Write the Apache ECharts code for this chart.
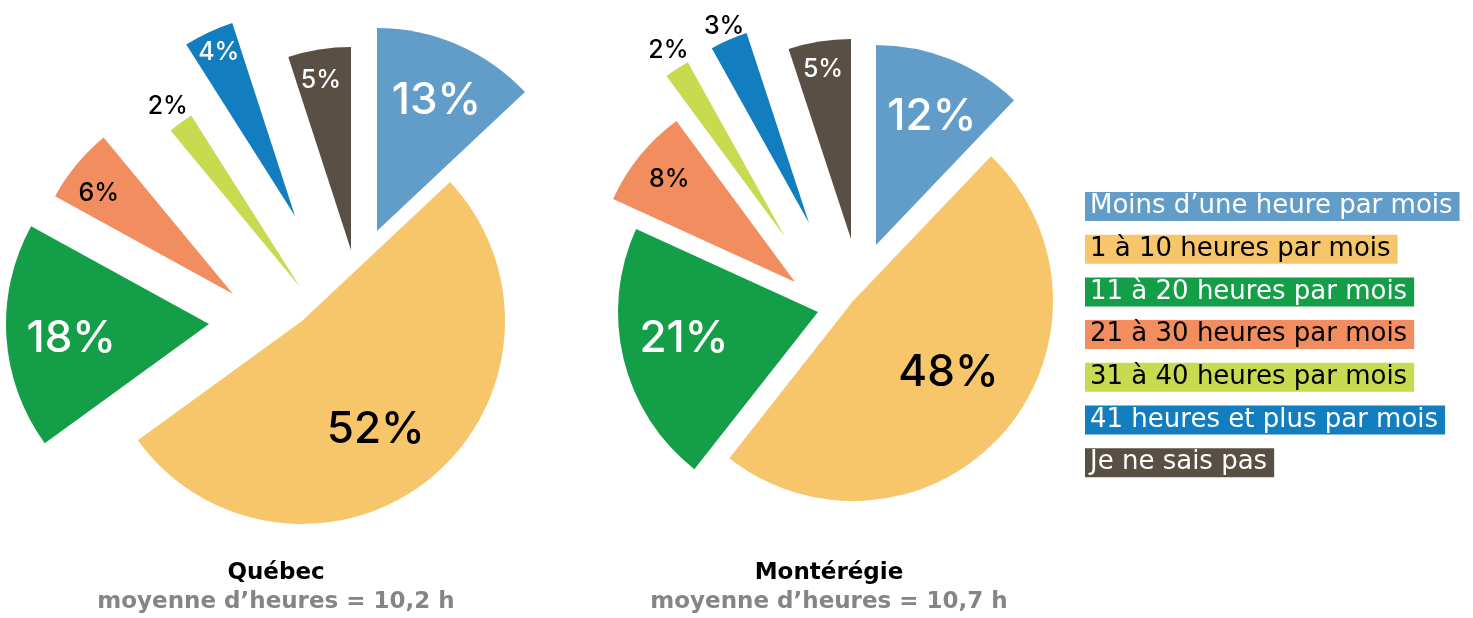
<!DOCTYPE html>
<html><head><meta charset="utf-8">
<script src="https://cdn.jsdelivr.net/npm/echarts@6/dist/echarts.min.js"></script>
<style>html,body{margin:0;padding:0;background:#fff}#c{width:1473px;height:618px}</style>
</head><body><div id="c"></div>
<script>
// ---- DATA ----
const categories = ['Moins d’une heure par mois', '1 à 10 heures par mois', '11 à 20 heures par mois', '21 à 30 heures par mois', '31 à 40 heures par mois', '41 heures et plus par mois', 'Je ne sais pas'];
const quebecValues = [13, 52, 18, 6, 2, 4, 5];
const monteregieValues = [12, 48, 21, 8, 2, 3, 5];
const regionNames = ['Québec', 'Montérégie'];
const regionSubtitles = ['moyenne d’heures = 10,2 h', 'moyenne d’heures = 10,7 h'];

// ---- STYLE ----
const LABEL_FONT = 'Inter, "Noto Sans", sans-serif';
const TEXT_FONT = '"DejaVu Sans", "Noto Sans", sans-serif';
const colors = ['#629DC9', '#F7C66B', '#149E48', '#F18D5E', '#C8DA50', '#127EC0', '#594F45'];
const legendTextColors = ['#fff', '#000', '#fff', '#000', '#000', '#fff', '#fff'];

// ---- LAYOUT (explosion apex of each slice, label radial fraction + nudge) ----
const layouts = [
  { R: 203, titleX: 276,
    apex: [[377, 231], [302, 321], [209, 324], [233, 294], [300, 287], [295, 216], [351, 250]],
    labelK: [0.71, 0.64, 0.68, 0.83, 1.11, 0.89, 0.87],
    labelOffset: [[1, 5], [-11, 6], [3, 6], [-2, 9], [2, 4], [2, 3], [-2, 8]],
    labelSize: [44, 44, 44, 25, 25, 25, 25],
    labelColor: ['#fff', '#000', '#fff', '#000', '#000', '#fff', '#fff'] },
  { R: 200, titleX: 829,
    apex: [[876, 245], [853, 301], [818, 312], [795, 282], [785, 237], [809, 223], [851, 239]],
    labelK: [0.71, 0.59, 0.69, 0.82, 1.11, 1.08, 0.87],
    labelOffset: [[2, 6], [4, -7], [3, -6], [4, 3], [5, 3], [3, 4], [0, 5]],
    labelSize: [44, 44, 44, 25, 25, 25, 25],
    labelColor: ['#fff', '#000', '#fff', '#000', '#000', '#000', '#fff'] }
];
const regionValues = [quebecValues, monteregieValues];

const TRANSPARENT = 'rgba(0,0,0,0)';
const series = [];
regionValues.forEach((values, r) => {
  const L = layouts[r];
  values.forEach((_, i) => {
    // slice i drawn by its own pie (all values, only slice i coloured)
    series.push({
      type: 'pie', center: L.apex[i], radius: [0, L.R], startAngle: 90, clockwise: true,
      silent: true, animation: false, avoidLabelOverlap: false, z: 2,
      label: { show: false }, labelLine: { show: false }, emphasis: { disabled: true },
      data: values.map((v, j) => ({
        name: categories[j], value: v,
        itemStyle: { color: j === i ? colors[j] : TRANSPARENT, borderWidth: 0 }
      }))
    });
    // label carrier for slice i
    series.push({
      type: 'pie', center: L.apex[i], radius: [0, 2 * L.labelK[i] * L.R], startAngle: 90, clockwise: true,
      silent: true, animation: false, avoidLabelOverlap: false, z: 3,
      labelLine: { show: false }, emphasis: { disabled: true },
      itemStyle: { color: TRANSPARENT, borderWidth: 0 },
      data: values.map((v, j) => ({
        name: categories[j], value: v,
        label: {
          show: j === i, position: 'inside', formatter: '{c}%', offset: L.labelOffset[j],
          color: L.labelColor[j], fontSize: L.labelSize[j], fontFamily: LABEL_FONT, fontWeight: 500
        }
      }))
    });
  });
});

const titles = regionNames.map((name, r) => ({
  text: name, subtext: regionSubtitles[r],
  left: layouts[r].titleX, top: 561, textAlign: 'center', padding: 0, itemGap: 4,
  textStyle: { fontFamily: TEXT_FONT, fontSize: 23, lineHeight: 25, fontWeight: 'bold', color: '#000' },
  subtextStyle: { fontFamily: TEXT_FONT, fontSize: 23, lineHeight: 25, fontWeight: 'bold', color: '#858585' }
}));

const chart = echarts.init(document.getElementById('c'), null, { renderer: 'canvas' });
chart.setOption({
  animation: false,
  backgroundColor: '#fff',
  title: titles,
  legend: {
    orient: 'vertical', left: 1080, top: 192, itemGap: 13.7, itemWidth: 0, itemHeight: 0,
    icon: 'rect', selectedMode: false, padding: 0,
    itemStyle: { opacity: 0 },
    textStyle: { fontFamily: TEXT_FONT, fontSize: 26, lineHeight: 23, fontWeight: 'normal' },
    data: categories.map((c, i) => ({
      name: c,
      textStyle: { backgroundColor: colors[i], color: legendTextColors[i], padding: [3, 7, 3, 5] }
    }))
  },
  series: series
});
</script>
</body></html>
